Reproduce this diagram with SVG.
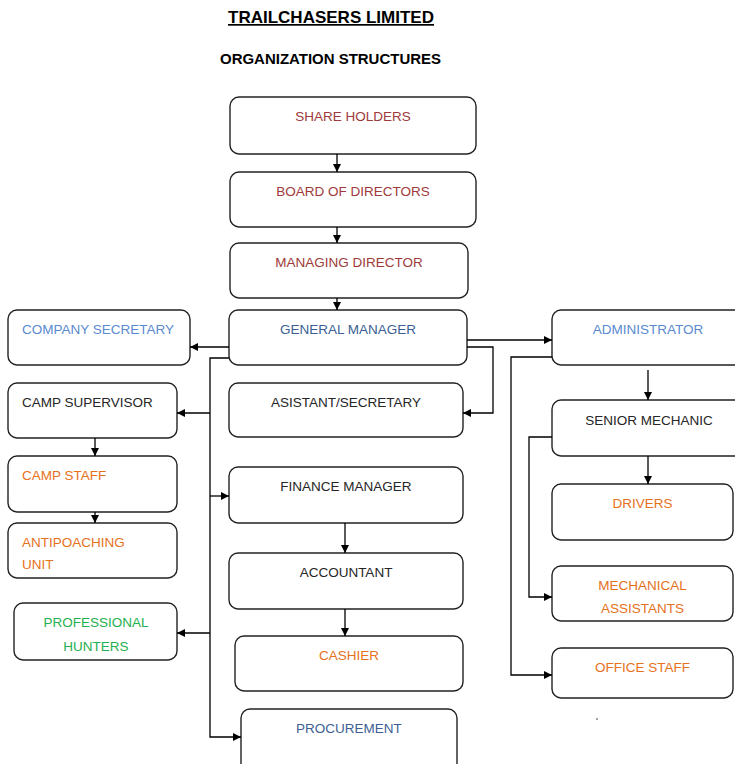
<svg xmlns="http://www.w3.org/2000/svg" width="735" height="764" viewBox="0 0 735 764">
<style>
.box{fill:#fff;stroke:#222;stroke-width:1.4}
.t{font-family:"Liberation Sans",Arial,sans-serif;font-size:13.5px;text-anchor:middle}
.l{text-anchor:start}
.red{fill:#9e3a3a}
.dblue{fill:#3b5f94}
.lblue{fill:#5a8ad0}
.org{fill:#e6711b}
.grn{fill:#1fb050}
.blk{fill:#262626}
.c{fill:none;stroke:#000;stroke-width:1.3;marker-end:url(#ah)}
.head{font-family:"Liberation Sans",Arial,sans-serif;font-weight:bold;fill:#000;text-anchor:middle}
</style>
<defs>
<marker id="ah" markerUnits="userSpaceOnUse" markerWidth="9" markerHeight="9" refX="8" refY="4" orient="auto">
<path d="M0,0 L8,4 L0,8 z" fill="#000"/>
</marker>
</defs>
<rect width="735" height="764" fill="#fff"/>
<text class="head" x="331" y="23" font-size="17" textLength="206" lengthAdjust="spacingAndGlyphs" text-decoration="underline">TRAILCHASERS LIMITED</text>
<text class="head" x="330.5" y="64" font-size="15" textLength="221" lengthAdjust="spacingAndGlyphs">ORGANIZATION STRUCTURES</text>

<g id="share-holders"><rect class="box" x="230" y="97" width="246" height="57" rx="9"/><text class="t red" x="353" y="121">SHARE HOLDERS</text></g>
<g id="board"><rect class="box" x="230" y="172" width="246" height="55" rx="9"/><text class="t red" x="353" y="196">BOARD OF DIRECTORS</text></g>
<g id="managing-director"><rect class="box" x="230" y="243" width="238" height="55" rx="9"/><text class="t red" x="349" y="267">MANAGING DIRECTOR</text></g>
<g id="general-manager"><rect class="box" x="229" y="310" width="238" height="55" rx="9"/><text class="t dblue" x="348" y="334">GENERAL MANAGER</text></g>
<g id="company-secretary"><rect class="box" x="8" y="310" width="182" height="55" rx="9"/><text class="t lblue l" x="22" y="334">COMPANY SECRETARY</text></g>
<g id="administrator"><rect class="box" x="552" y="310" width="192" height="55" rx="9"/><text class="t lblue" x="648" y="334">ADMINISTRATOR</text></g>
<g id="asistant-secretary"><rect class="box" x="229" y="383" width="234" height="54" rx="9"/><text class="t blk" x="346" y="407">ASISTANT/SECRETARY</text></g>
<g id="camp-supervisor"><rect class="box" x="8" y="383" width="169" height="55" rx="9"/><text class="t blk l" x="22" y="407">CAMP SUPERVISOR</text></g>
<g id="senior-mechanic"><rect class="box" x="552" y="400" width="194" height="56" rx="9"/><text class="t blk" x="649" y="425">SENIOR MECHANIC</text></g>
<g id="camp-staff"><rect class="box" x="8" y="456" width="169" height="56" rx="9"/><text class="t org l" x="22" y="480">CAMP STAFF</text></g>
<g id="finance-manager"><rect class="box" x="229" y="467" width="234" height="56" rx="9"/><text class="t blk" x="346" y="491">FINANCE MANAGER</text></g>
<g id="drivers"><rect class="box" x="552" y="484" width="181" height="56" rx="9"/><text class="t org" x="642.5" y="508">DRIVERS</text></g>
<g id="antipoaching-unit"><rect class="box" x="8" y="523" width="169" height="55" rx="9"/><text class="t org l" x="22" y="547">ANTIPOACHING</text><text class="t org l" x="22" y="569">UNIT</text></g>
<g id="accountant"><rect class="box" x="229" y="553" width="234" height="56" rx="9"/><text class="t blk" x="346" y="577">ACCOUNTANT</text></g>
<g id="mechanical-assistants"><rect class="box" x="552" y="566" width="181" height="55" rx="9"/><text class="t org" x="642.5" y="590">MECHANICAL</text><text class="t org" x="642.5" y="613">ASSISTANTS</text></g>
<g id="professional-hunters"><rect class="box" x="14" y="603" width="163" height="57" rx="9"/><text class="t grn" x="96" y="627">PROFESSIONAL</text><text class="t grn" x="96" y="651">HUNTERS</text></g>
<g id="cashier"><rect class="box" x="235" y="636" width="228" height="55" rx="9"/><text class="t org" x="349" y="660">CASHIER</text></g>
<g id="office-staff"><rect class="box" x="552" y="648" width="181" height="50" rx="9"/><text class="t org" x="642.5" y="672">OFFICE STAFF</text></g>
<g id="procurement"><rect class="box" x="241" y="709" width="216" height="70" rx="9"/><text class="t dblue" x="349" y="733">PROCUREMENT</text></g>

<g id="connectors">
<path class="c" d="M337,154 V172"/>
<path class="c" d="M337,227 V243"/>
<path class="c" d="M337,298 V310"/>
<path class="c" d="M229,347 H190"/>
<path class="c" d="M467,340 H552"/>
<path class="c" d="M467,347 H493 V413 H463"/>
<path class="c" d="M229,358 H210 V737 H241"/>
<path class="c" d="M210,413 H177"/>
<path class="c" d="M210,496 H229"/>
<path class="c" d="M210,633 H177"/>
<path class="c" d="M95,438 V456"/>
<path class="c" d="M95,512 V523"/>
<path class="c" d="M345,523 V553"/>
<path class="c" d="M345,609 V636"/>
<path class="c" d="M648,370 V400"/>
<path class="c" d="M648,456 V484"/>
<path class="c" d="M552,357 H511 V675 H552"/>
<path class="c" d="M552,437 H529 V597 H552"/>
</g>
<circle cx="597" cy="719" r="0.7" fill="#000"/>
</svg>
